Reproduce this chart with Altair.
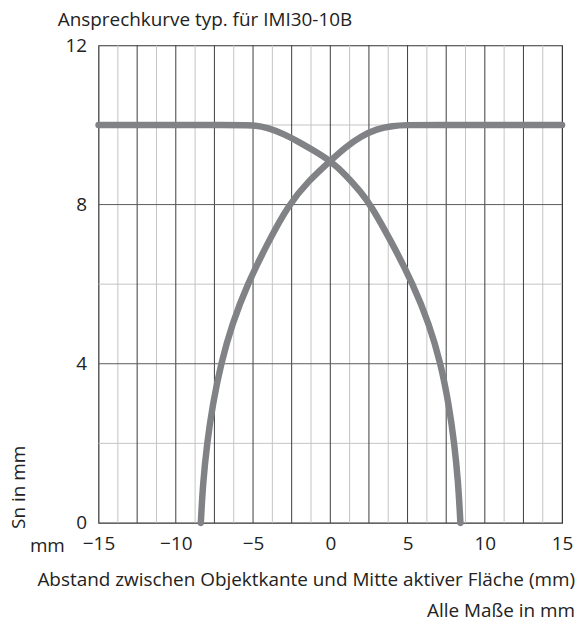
import altair as alt
import pandas as pd

# Curve decreasing to the right
fall_x = [-15, -14, -6, -5, -4, -3, -2, -1, 0, 1, 2, 2.6, 4.05, 5.35, 6.4, 7.15, 7.66, 8.03, 8.28, 8.42]
fall_y = [10, 10, 10, 10, 9.93, 9.77, 9.57, 9.34, 9.1, 8.75, 8.3, 8.0, 7.0, 6.0, 5.0, 4.0, 3.0, 2.0, 1.0, 0]
# Curve increasing to the right
rise_x = [-8.38, -8.24, -7.98, -7.6, -7.08, -6.36, -5.36, -4.1, -2.7, -1.4, 0, 1, 2, 3, 4, 5, 6, 14, 15]
rise_y = [0, 1, 2, 3, 4, 5, 6, 7, 8, 8.6, 9.1, 9.45, 9.72, 9.9, 9.98, 10, 10, 10, 10]

x_ticks = [-15, -10, -5, 0, 5, 10, 15]
y_ticks = [0, 4, 8, 12]
grid_x_major = [-12.5, -10, -7.5, -5, -2.5, 0, 2.5, 5, 7.5, 10, 12.5]
grid_x_minor = [-13.75, -11.25, -8.75, -6.25, -3.75, -1.25, 1.25, 3.75, 6.25, 8.75, 11.25, 13.75]
grid_y_major = [4, 8]
grid_y_minor = [2, 6, 10]

FONT = "Open Sans"
FS = 19
TXT = "#222222"

curves = pd.concat([
    pd.DataFrame({"x": fall_x, "y": fall_y, "curve": "fall", "i": range(len(fall_x))}),
    pd.DataFrame({"x": rise_x, "y": rise_y, "curve": "rise", "i": range(len(rise_x))}),
])

xs = alt.Scale(domain=[-15, 15], nice=False, zero=False)
ys = alt.Scale(domain=[0, 12], nice=False, zero=False)

x_axis = alt.Axis(values=x_ticks, title=None, grid=False, ticks=False, domain=False, labelFlush=False,
                  labelFont=FONT, labelFontSize=FS, labelColor=TXT, labelPadding=12)
y_axis = alt.Axis(values=y_ticks, title=None, grid=False, ticks=False, domain=False, labelFlush=False,
                  labelFont=FONT, labelFontSize=FS, labelColor=TXT, labelPadding=12)

minor_v = alt.Chart(pd.DataFrame({"x": grid_x_minor})).mark_rule(color="#c4c4c4", strokeWidth=1).encode(
    x=alt.X("x:Q", scale=xs, axis=x_axis))
minor_h = alt.Chart(pd.DataFrame({"y": grid_y_minor})).mark_rule(color="#c4c4c4", strokeWidth=1).encode(
    y=alt.Y("y:Q", scale=ys, axis=y_axis))
major_v = alt.Chart(pd.DataFrame({"x": grid_x_major})).mark_rule(color="#3c3c3c", strokeWidth=1).encode(
    x=alt.X("x:Q", scale=xs))
major_h = alt.Chart(pd.DataFrame({"y": grid_y_major})).mark_rule(color="#5a5a5a", strokeWidth=1).encode(
    y=alt.Y("y:Q", scale=ys))

lines = alt.Chart(curves).mark_line(color="#808285", strokeWidth=6.5, strokeCap="round",
                                    strokeJoin="round", interpolate="basis").encode(
    x=alt.X("x:Q", scale=xs),
    y=alt.Y("y:Q", scale=ys),
    detail="curve:N",
    order="i:Q",
)

def label(text, x, y, align="left", angle=0):
    return alt.Chart(pd.DataFrame({"t": [text]})).mark_text(
        font=FONT, fontSize=FS, color=TXT, align=align, baseline="alphabetic", angle=angle
    ).encode(text="t:N", x=alt.value(x), y=alt.value(y))

title = label("Ansprechkurve typ. für IMI30-10B", -41, -20)
ylab = label("Sn in mm", -74, 486, angle=270)
mm = label("mm", -69, 509)
xlab = label("Abstand zwischen Objektkante und Mitte aktiver Fläche (mm)", 479, 543, align="right")
note = label("Alle Maße in mm", 479, 575, align="right")

chart = alt.layer(minor_v, minor_h, major_v, major_h, lines, title, ylab, mm, xlab, note).properties(
    width=466, height=480,
    autosize=alt.AutoSizeParams(type="none"),
    padding={"left": 91, "top": 36, "right": 15, "bottom": 100},
).configure_view(stroke="#333333", strokeWidth=1.2)

chart.save("out.html", embed_options={"renderer": "svg", "actions": False})
